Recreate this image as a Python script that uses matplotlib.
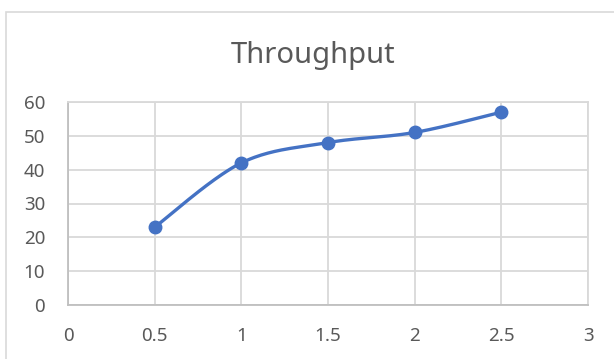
import numpy as np
import matplotlib
matplotlib.use('Agg')
import matplotlib.pyplot as plt
from matplotlib.patches import Rectangle

# Dados de vazão
x_vals = [0.5, 1.0, 1.5, 2.0, 2.5]
throughput = [23, 42, 48, 51, 57]
x_ticks = [0, 0.5, 1, 1.5, 2, 2.5, 3]
x_labels = ['0', '0.5', '1', '1.5', '2', '2.5', '3']
y_ticks = [0, 10, 20, 30, 40, 50, 60]

plt.rcParams['font.family'] = ['Noto Sans', 'DejaVu Sans']


def curva_suave(xs, ys, n=40):
    # Bezier cúbica com pontos de controle estilo Catmull-Rom (linha suavizada)
    xs = np.asarray(xs, float)
    ys = np.asarray(ys, float)
    px = np.concatenate([[xs[0]], xs, [xs[-1]]])
    py = np.concatenate([[ys[0]], ys, [ys[-1]]])
    out_x, out_y = [], []
    t = np.linspace(0, 1, n)
    for i in range(1, len(px) - 2):
        p0 = np.array([px[i], py[i]])
        p3 = np.array([px[i + 1], py[i + 1]])
        p1 = p0 + (np.array([px[i + 1], py[i + 1]]) - np.array([px[i - 1], py[i - 1]])) / 6
        p2 = p3 - (np.array([px[i + 2], py[i + 2]]) - np.array([px[i], py[i]])) / 6
        b = ((1 - t) ** 3)[:, None] * p0 + (3 * (1 - t) ** 2 * t)[:, None] * p1 \
            + (3 * (1 - t) * t ** 2)[:, None] * p2 + (t ** 3)[:, None] * p3
        out_x.extend(b[:, 0])
        out_y.extend(b[:, 1])
    return out_x, out_y


fig = plt.figure(figsize=(6.14, 3.59), dpi=100)
fig.patches.append(Rectangle((6 / 614, -0.1), 1.1, (359 - 12) / 359 + 0.1,
                             transform=fig.transFigure, fill=False,
                             edgecolor='#d9d9d9', linewidth=1.2))

ax = fig.add_axes([68 / 614, (359 - 305) / 359, 520 / 614, 203 / 359])

cx, cy = curva_suave(x_vals, throughput)
ax.plot(cx, cy, color='#4472c4', linewidth=2.4, solid_capstyle='round', zorder=3)
ax.plot(x_vals, throughput, 'o', color='#4472c4', markersize=9, zorder=4)

ax.set_xlim(0, 3)
ax.set_ylim(0, 60)
ax.set_xticks(x_ticks)
ax.set_xticklabels(x_labels)
ax.set_yticks(y_ticks)
ax.grid(True, color='#d9d9d9', linewidth=1.3)
ax.set_axisbelow(True)
for s in ax.spines.values():
    s.set_color('#d9d9d9')
    s.set_linewidth(1.3)
ax.spines['left'].set_color('#bfbfbf')
ax.spines['bottom'].set_color('#bfbfbf')
ax.tick_params(length=0, labelsize=13.5, labelcolor='#595959')
ax.tick_params(axis='x', pad=16)
ax.tick_params(axis='y', pad=16.5)

fig.text(313 / 614, 1 - 63 / 359, 'Throughput', ha='center', va='baseline',
         fontsize=21, color='#595959')

plt.savefig('out.png', dpi=100)
